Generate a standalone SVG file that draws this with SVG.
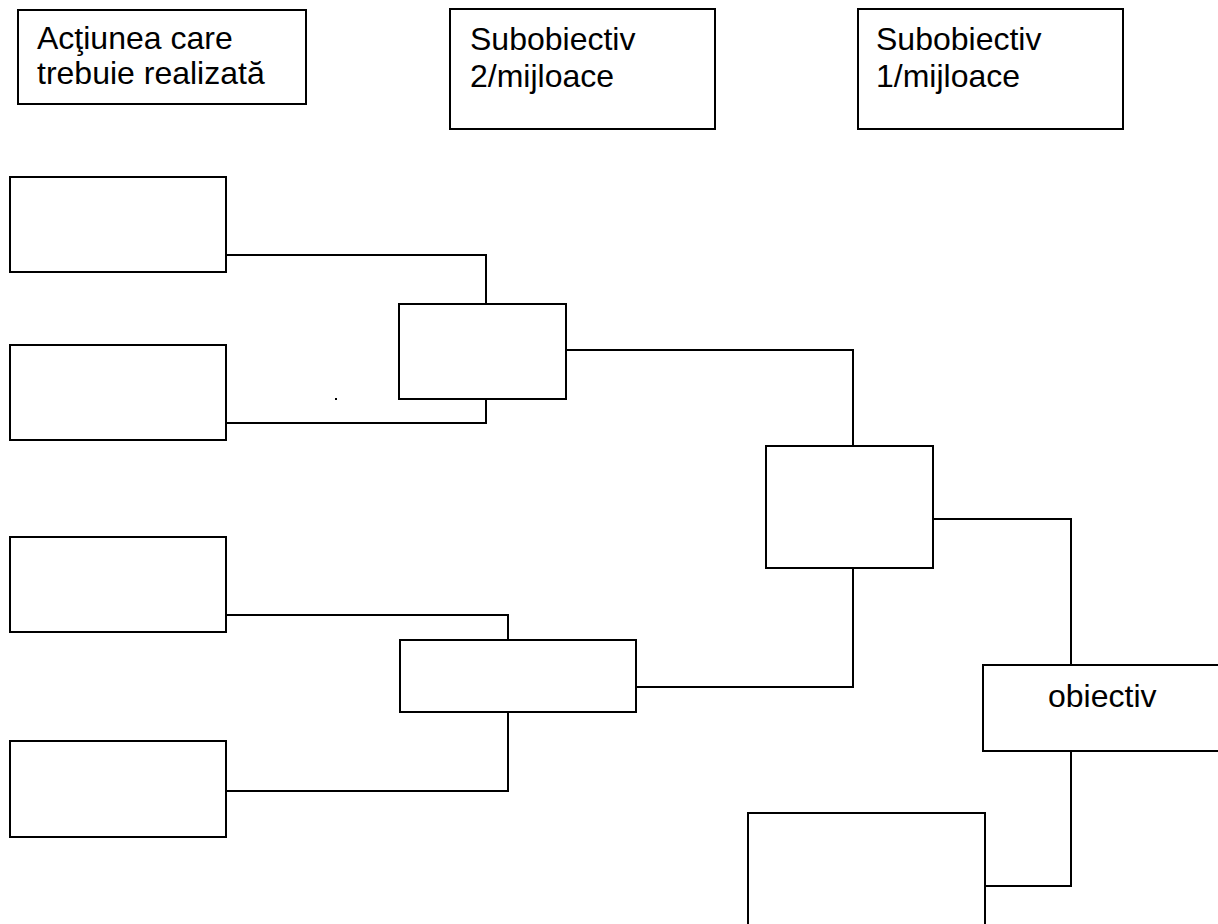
<svg xmlns="http://www.w3.org/2000/svg" width="1218" height="924" viewBox="0 0 1218 924">
<style>
.b{fill:#fff;stroke:#000;stroke-width:2}
.c{fill:none;stroke:#000;stroke-width:2}
.t{font-family:"Liberation Sans",Arial,sans-serif;font-size:32px;fill:#000}
</style>
<rect width="1218" height="924" fill="#fff"/>
<g id="hdr-actiune"><rect class="b" x="18" y="10" width="288" height="94"/><text class="t" x="37" y="49">Acţiunea care</text><text class="t" x="37" y="83.5">trebuie realizată</text></g>
<g id="hdr-sub2"><rect class="b" x="450" y="9" width="265" height="120"/><text class="t" x="470" y="50">Subobiectiv</text><text class="t" x="470" y="86.5">2/mijloace</text></g>
<g id="hdr-sub1"><rect class="b" x="858" y="9" width="265" height="120"/><text class="t" x="876" y="50">Subobiectiv</text><text class="t" x="876" y="86.5">1/mijloace</text></g>
<g id="connectors">
<polyline class="c" points="226,255 486,255 486,304"/>
<polyline class="c" points="226,423 486,423 486,399"/>
<polyline class="c" points="566,350 853,350 853,446"/>
<polyline class="c" points="226,615 508,615 508,640"/>
<polyline class="c" points="226,791 508,791 508,712"/>
<polyline class="c" points="636,687 853,687 853,568"/>
<polyline class="c" points="933,519 1071,519 1071,665"/>
<polyline class="c" points="1071,751 1071,886 985,886"/>
</g>
<g id="a1"><rect class="b" x="10" y="177" width="216" height="95"/></g>
<g id="a2"><rect class="b" x="10" y="345" width="216" height="95"/></g>
<g id="a3"><rect class="b" x="10" y="537" width="216" height="95"/></g>
<g id="a4"><rect class="b" x="10" y="741" width="216" height="96"/></g>
<g id="m1"><rect class="b" x="399" y="304" width="167" height="95"/></g>
<g id="m2"><rect class="b" x="400" y="640" width="236" height="72"/></g>
<g id="r1"><rect class="b" x="766" y="446" width="167" height="122"/></g>
<g id="obiectiv"><path class="c" d="M1218,665 H983 V751 H1218"/><text class="t" x="1048" y="706.5">obiectiv</text></g>
<g id="bottom"><path class="c" d="M748,924 V813 H985 V924"/></g>
<rect x="335" y="398" width="2" height="2" fill="#000"/>
</svg>
